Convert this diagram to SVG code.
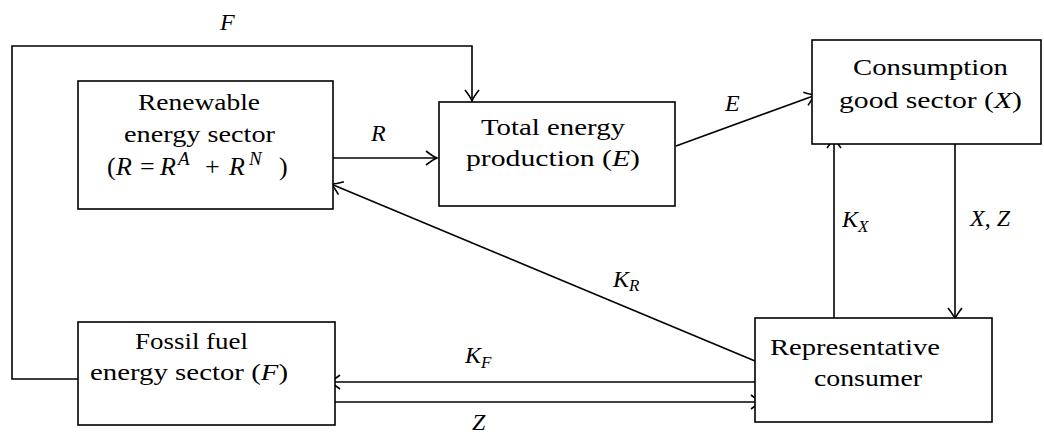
<svg xmlns="http://www.w3.org/2000/svg" width="1044" height="434" viewBox="0 0 1044 434">
<style>
.box{fill:#fff;stroke:#000;stroke-width:1.6}
.t{font-family:"Liberation Serif","Times New Roman",serif;font-size:24px;fill:#000}
.m{font-size:26px}
.i{font-style:italic}
.s{font-size:17px;font-style:italic}
.s2{font-size:19px;font-style:italic}
.c{fill:none;stroke:#000;stroke-width:1.6}
.a{marker-end:url(#arr)}
</style>
<defs>
<marker id="arr" markerUnits="userSpaceOnUse" viewBox="-14 -9 16 18" refX="0" refY="0" markerWidth="16" markerHeight="18" orient="auto" overflow="visible">
<path d="M -11 -7 Q -4 -1.5 0 0 Q -4 1.5 -11 7" fill="none" stroke="#000" stroke-width="1.6"/>
</marker>
</defs>
<g id="connectors">
<path class="c a" d="M 78 379 H 12 V 46 H 472 V 101"/>
<path class="c a" d="M 333 158 H 437"/>
<path class="c a" d="M 676 146 L 816 95"/>
<path class="c a" d="M 755 361 L 331 184"/>
<path class="c a" d="M 834 318 V 137"/>
<path class="c a" d="M 955 144 V 319"/>
<path class="c a" d="M 755 382 H 329"/>
<path class="c a" d="M 335 402 H 762"/>
</g>
<g id="labels">
<text class="t i" x="220" y="30">F</text>
<text class="t i" x="371" y="141">R</text>
<text class="t i" x="725" y="111">E</text>
<text class="t" x="613" y="287"><tspan class="i">K</tspan><tspan class="s" dy="4">R</tspan></text>
<text class="t" x="842" y="227"><tspan class="i">K</tspan><tspan class="s" dy="5">X</tspan></text>
<text class="t" x="970" y="226"><tspan class="i">X</tspan>, <tspan class="i">Z</tspan></text>
<text class="t" x="465" y="363"><tspan class="i">K</tspan><tspan class="s" dy="5">F</tspan></text>
<text class="t i" x="472" y="430">Z</text>
</g>
<g id="renewable">
<rect class="box" x="78" y="81" width="255" height="128"/>
<text class="t" x="138" y="110" textLength="122" lengthAdjust="spacingAndGlyphs">Renewable</text>
<text class="t" x="124" y="142" textLength="151" lengthAdjust="spacingAndGlyphs">energy sector</text>
<text class="t m" y="175"><tspan x="107">(</tspan><tspan class="i" x="116">R</tspan><tspan x="140">=</tspan><tspan class="i" x="160">R</tspan><tspan class="s2" x="178" y="165">A</tspan><tspan x="205" y="175">+</tspan><tspan class="i" x="229">R</tspan><tspan class="s2" x="249" y="165">N</tspan><tspan x="279" y="175">)</tspan></text>
</g>
<g id="total">
<rect class="box" x="439" y="102" width="236" height="104"/>
<text class="t" x="481" y="135" textLength="144" lengthAdjust="spacingAndGlyphs">Total energy</text>
<text class="t" x="466" y="166" textLength="174" lengthAdjust="spacingAndGlyphs">production (<tspan class="i">E</tspan>)</text>
</g>
<g id="consumption">
<rect class="box" x="812" y="40" width="229" height="104"/>
<text class="t" x="853" y="75" textLength="155" lengthAdjust="spacingAndGlyphs">Consumption</text>
<text class="t" x="839" y="108" textLength="183" lengthAdjust="spacingAndGlyphs">good sector (<tspan class="i">X</tspan>)</text>
</g>
<g id="fossil">
<rect class="box" x="78" y="322" width="257" height="103"/>
<text class="t" x="135" y="349" textLength="113" lengthAdjust="spacingAndGlyphs">Fossil fuel</text>
<text class="t" x="90" y="380" textLength="198" lengthAdjust="spacingAndGlyphs">energy sector (<tspan class="i">F</tspan>)</text>
</g>
<g id="consumer">
<rect class="box" x="755" y="318" width="237" height="104"/>
<text class="t" x="770" y="355" textLength="170" lengthAdjust="spacingAndGlyphs">Representative</text>
<text class="t" x="814" y="386" textLength="108" lengthAdjust="spacingAndGlyphs">consumer</text>
</g>
</svg>
